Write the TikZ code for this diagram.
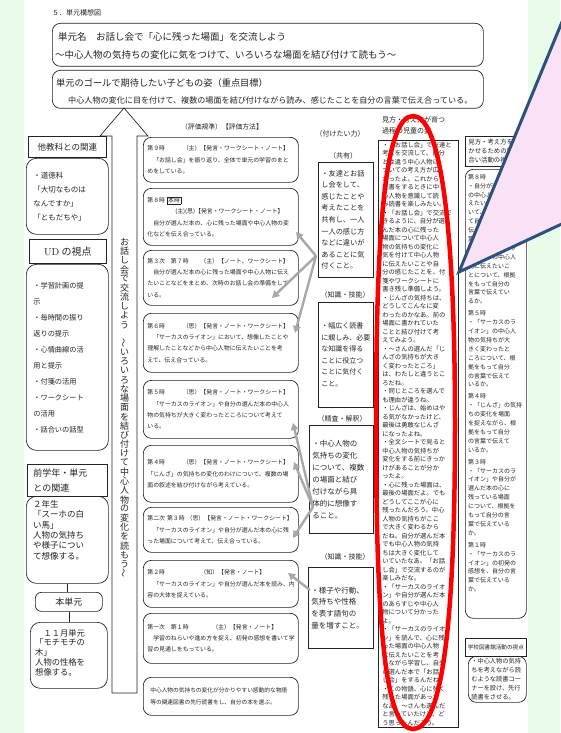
\documentclass[tikz,border=0pt]{standalone}
\usepackage{fontspec}
\newfontfamily\jp{Noto Sans CJK JP}
\usetikzlibrary{arrows.meta,calc}
\definecolor{bggreen}{RGB}{233,251,233}
\definecolor{gline}{RGB}{168,168,168}
\definecolor{cpink}{RGB}{250,226,246}
\definecolor{cblue}{RGB}{45,80,125}
\definecolor{ink}{RGB}{35,35,35}
\newcommand\fsz[2]{\fontsize{#1}{#2}\selectfont}
\newcommand\myvwave{\rotatebox[origin=c]{90}{～}}
\tikzset{
  frame/.style={draw=ink, line width=0.7pt},
  rbox/.style={frame, rounded corners=8pt, anchor=north west, align=left, inner xsep=4pt, inner ysep=0pt, text=ink},
  sbox/.style={frame, anchor=north west, align=left, inner xsep=4pt, inner ysep=0pt, text=ink},
  txt/.style={inner sep=0pt, text=ink},
  garrow/.style={draw=gline, line width=2.4pt, -{Triangle[length=7pt,width=7.5pt]}},
  evbox/.style={rbox, text width=147pt, font=\jp\fsz{5.9}{11.3}},
  lab/.style={txt, font=\jp\fsz{7}{8}},
}
\begin{document}
\begin{tikzpicture}[x=1pt,y=-1pt]
\useasboundingbox (0,0) rectangle (560,733);
\fill[bggreen] (0,0) rectangle (560,733);
\fill[white] (24,0) rectangle (528,733);

% ---- title and top boxes
\node[txt, anchor=west, font=\jp\fsz{7}{8}] (title) at (52,13) {５．単元構想図};
\node[rbox, minimum width=431pt, minimum height=43pt] (unit) at (52,23) {};
\node[txt, anchor=west, font=\jp\fsz{9.5}{10}] (unitA) at (58,37) {単元名　お話し会で「心に残った場面」を交流しよう};
\node[txt, anchor=west, font=\jp\fsz{9.5}{10}] (unitB) at (55,55) {～中心人物の気持ちの変化に気をつけて、いろいろな場面を結び付けて読もう～};
\node[rbox, minimum width=431pt, minimum height=38pt] (goal) at (52,70) {};
\node[txt, anchor=west, font=\jp\fsz{9.2}{10}] (goalA) at (56,83) {単元のゴールで期待したい子どもの姿（重点目標）};
\node[txt, anchor=west, font=\jp\fsz{8.1}{9}] (goalB) at (68,100) {中心人物の変化に目を付けて、複数の場面を結び付けながら読み、感じたことを自分の言葉で伝え合っている。};

% ---- big arrow
\draw[frame] (112,693) -- (112,136) -- (100,136) -- (124,108) -- (148,136) -- (137,136) -- (137,693) -- cycle;
\foreach \ch [count=\i] in {お,話,し,会,で,交,流,し,よ,う,{},\myvwave,い,ろ,い,ろ,な,場,面,を,結,び,付,け,て,中,心,人,物,の,変,化,を,読,も,う,\myvwave}
  \node[txt, font=\jp\fsz{9}{9}] at (124.5,{242+(\i-1)*9.2}) {\ch};

% ---- left column
\node[sbox, minimum width=78pt, minimum height=21pt, align=center, font=\jp\fsz{8.5}{10}] (oth) at (28,136) {他教科との関連};
\node[rbox, rounded corners=10pt, text width=68pt, inner xsep=7pt, minimum height=76pt, font=\jp\fsz{7.5}{14}] (oth2) at (26,158) {・道徳科\\「大切なものは\\なんですか」\\「ともだちや」};
\node[sbox, minimum width=77pt, minimum height=24pt, align=center, font=\jp\fsz{10}{12}] (ud) at (29,239) {{\rmfamily UD} の視点};
\node[rbox, rounded corners=10pt, text width=68pt, inner xsep=7pt, minimum height=186pt, font=\jp\fsz{7.2}{16}] (ud2) at (26,264) {・学習計画の提\\示\\・毎時間の振り\\返りの提示\\・心情曲線の活\\用と提示\\・付箋の活用\\・ワークシート\\の活用\\・話合いの話型};
\node[sbox, text width=68pt, inner xsep=6pt, minimum height=32pt, font=\jp\fsz{9}{15}] (prev) at (27,464) {前学年・単元\\との関連};
\node[rbox, rounded corners=10pt, minimum width=82pt, minimum height=87pt] (prev2) at (26,496) {};
\node[txt, anchor=north west, align=left, font=\jp\fsz{8.5}{10.4}] (prev2t) at (33,500) {２年生\\「スーホの白\\い馬」\\人物の気持ち\\や様子につい\\て想像する。};
\node[rbox, rounded corners=6pt, minimum width=67pt, minimum height=19pt, font=\jp\fsz{9}{10}] (honb) at (35,592) {本単元};
\node[rbox, rounded corners=10pt, minimum width=77pt, minimum height=66pt] (mochi) at (30,622) {};
\node[txt, anchor=north west, align=left, font=\jp\fsz{8.3}{9.8}] (mochit) at (35,629) {　１１月単元\\「モチモチの\\木」\\人物の性格を\\想像する。};
\draw[frame] (prev2.south) -- (prev2.south |- honb.north);
\draw[frame] (honb.south) -- (honb.south |- mochi.north);

% ---- evaluation column
\node[lab, font=\jp\fsz{6.8}{8}] (hyoka) at (222,127) {（評価規準）【評価方法】};
\node[evbox, minimum height=45pt] (evA) at (143,137) {第９時　　　（主）【発言・ワークシート・ノート】\\　「お話し会」を振り返り、全体で単元の学習のまと\\めをしている。};
\node[evbox, minimum height=57pt] (evB) at (143,188) {第８時\ {\fboxsep=0.7pt\fboxrule=0.4pt\fbox{本時}}\\\hspace*{28pt}(主)(思)【発言・ワークシート・ノート】\\　自分が選んだ本の、心に残った場面や中心人物の変\\化などを伝え合っている。};
\node[evbox, minimum height=55pt] (evC) at (143,250) {第３次　第７時　　（主）【ノート、ワークシート】\\　自分が選んだ本の心に残った場面や中心人物に伝え\\たいことなどをまとめ、次時のお話し会の準備をして\\いる。};
\node[evbox, minimum height=59pt] (evD) at (143,313) {第６時　　　（思）【発言・ノート・ワークシート】\\　「サーカスのライオン」において、想像したことや\\理解したことなどから中心人物に伝えたいことを考\\えて、伝え合っている。};
\node[evbox, minimum height=58pt] (evE) at (143,380) {第５時　　　（思）【発言・ノート・ワークシート】\\　「サーカスのライオン」や自分の選んだ本の中心人\\物の気持ちが大きく変わったところについて考えて\\いる。};
\node[evbox, minimum height=57pt] (evF) at (143,445) {第４時　　　（思）【発言・ノート・ワークシート】\\「じんざ」の気持ちの変化のわけについて、複数の場\\面の叙述を結び付けながら考えている。};
\node[evbox, minimum height=45pt] (evG) at (143,507) {第二次 第３時 （思）【発言・ノート・ワークシート】\\　「サーカスのライオン」や自分が選んだ本の心に残\\った場面について考えて、伝え合っている。};
\node[evbox, minimum height=47pt] (evH) at (143,560) {第２時　　　　　　（知）【発言・ノート】\\　「サーカスのライオン」や自分が選んだ本を読み、内\\容の大体を捉えている。};
\node[evbox, minimum height=50pt] (evI) at (143,613) {第一次　第１時　　　　（主）【発言・ノート】\\　学習のねらいや進め方を捉え、初発の感想を書いて学\\習の見通しをもっている。};
\node[evbox, minimum height=38pt, font=\jp\fsz{5.7}{12}] (evJ) at (143,677) {\hspace*{3pt}中心人物の気持ちの変化が分かりやすい感動的な物語\\\hspace*{3pt}等の関連図書の先行読書をし、自分の本を選ぶ。};

% ---- abilities column
\node[lab] (tsuke) at (340,134) {（付けたい力）};
\node[lab] (kyoyu) at (343,156) {（共有）};
\node[sbox, text width=49pt, inner xsep=3pt, minimum height=115pt, font=\jp\fsz{7.2}{11.6}] (kK) at (318,162) {・友達とお話\\し会をして、\\感じたことや\\考えたことを\\共有し、一人\\一人の感じ方\\などに違いが\\あることに気\\付くこと。};
\node[lab] (chi1) at (345,295) {（知識・技能）};
\node[sbox, text width=49pt, inner xsep=3pt, minimum height=105pt, font=\jp\fsz{7}{11.6}] (kL) at (318,302) {・幅広く読書\\に親しみ、必要\\な知識を得る\\ことに役立つ\\ことに気付く\\こと。};
\node[lab] (seisa) at (342,419) {（精査・解釈）};
\node[sbox, text width=58pt, inner xsep=3pt, minimum height=108pt, font=\jp\fsz{7.5}{12}] (kM) at (309,425) {・中心人物の\\気持ちの変化\\について、複数\\の場面と結び\\付けながら具\\体的に想像す\\ること。};
\node[lab] (chi2) at (345,557) {（知識・技能）};
\node[sbox, text width=59pt, inner xsep=3pt, minimum height=81pt, font=\jp\fsz{7.5}{11.7}] (kN) at (308,567) {・様子や行動、\\気持ちや性格\\を表す語句の\\量を増すこと。};

% ---- gray arrows
\coordinate (v1) at (316,256);
\coordinate (tB) at (296,232);
\coordinate (tC) at (272,298);
\coordinate (tD) at (295,333);
\coordinate (v2) at (313,507);
\coordinate (tE) at (293,423);
\coordinate (tF) at (294,462);
\coordinate (tG) at (293,538);
\coordinate (v3) at (310,590);
\coordinate (tH) at (288,573);
\draw[garrow] (v1) -- (tB);
\draw[garrow] (v1) -- (tC);
\draw[garrow] (v1) -- (tD);
\draw[garrow] (v2) -- (tE);
\draw[garrow] (v2) -- (tF);
\draw[garrow] (v2) -- (tG);
\draw[garrow] (v3) -- (tH);

% ---- children column
\node[txt, anchor=north west, align=left, font=\jp\fsz{7}{11}] (phead) at (382,116) {見方・考え方が育つ\\過程の児童の姿};
\node[sbox, text width=72pt, minimum height=587pt, font=\jp\fsz{6.3}{8.5}] (pP) at (378,140) {・「お話し会」で友達と\\考えを交流して、自分\\とは違う中心人物に\\ついての考え方が広\\がったよ。これから\\読書をするときに中\\心人物を意識して読\\み読書を楽しみたい。\\・「お話し会」で交流で\\きるように、自分が選\\んだ本の心に残った\\場面について中心人\\物の気持ちの変化に\\気を付けて中心人物\\に伝えたいことや自\\分の感じたことを、付\\箋やワークシートに\\書き残し準備しよう。\\・じんざの気持ちは、\\どうしてこんなに変\\わったのかなあ。前の\\場面に書かれていた\\ことと結び付けて考\\えてみよう。\\・～さんの選んだ「じ\\んざの気持ちが大き\\く変わったところ」\\は、わたしと違うとこ\\ろだね。\\・同じところを選んで\\も理由が違うね。\\・じんざは、始めはや\\る気がなかったけど、\\最後は勇敢なじんざ\\になったよね。\\・全文シートで見ると\\中心人物の気持ちが\\変化をする前にきっか\\けがあることが分か\\ったよ。\\・心に残った場面は、\\最後の場面だよ。でも\\どうしてここが心に\\残ったんだろう。中心\\人物の気持ちがここ\\で大きく変わるから\\だね。自分が選んだ本\\でも中心人物の気持\\ちは大きく変化して\\いていたなあ。「お話\\し会」で交流するのが\\楽しみだな。\\・「サーカスのライオ\\ン」や自分が選んだ本\\のあらすじや中心人\\物について分かった\\よ。\\・「サーカスのライオ\\ン」を読んで、心に残\\った場面の中心人物\\に伝えたいことを考\\えながら学習し、自分\\の選んだ本で「お話\\し会」をするんだね。\\・この物語、心に強く\\残った場面があった\\なあ。～さんも選んだ\\と言っていたけど、ど\\う思ったんだろう。};
\draw[red, line width=4.5pt] (413,116) .. controls (440,116) and (455,220) .. (455,425) .. controls (455,640) and (440,729) .. (413,729) .. controls (387,729) and (376,640) .. (376,425) .. controls (376,220) and (386,116) .. (413,116) -- cycle;

% ---- right column
\node[sbox, text width=55pt, inner xsep=3pt, minimum height=30pt, font=\jp\fsz{6.4}{9.2}] (rhead) at (465,136) {見方・考え方を働\\かせるための話し\\合い活動の視点};
\node[rbox, minimum width=61pt, minimum height=449pt] (rbody) at (465,169) {};
\node[txt, anchor=north west, align=left, font=\jp\fsz{6}{8.9}] (rbodyt) at (468,174) {第８時\\・自分が選んだ本\\の中心人物に伝\\えたいことにつ\\いて、根拠をもっ\\て自分の言葉で\\伝えているか。\\第６時\\・「サーカスのラ\\イオン」の中心人\\物に伝えたいこ\\とについて、根拠\\をもって自分の\\言葉で伝えてい\\るか。\\[3pt]第５時\\・「サーカスのラ\\イオン」の中心人\\物の気持ちが大\\きく変わったと\\ころについて、根\\拠をもって自分\\の言葉で伝えて\\いるか。\\[3pt]第４時\\・「じんざ」の気持\\ちの変化を場面\\を捉えながら、根\\拠をもって自分\\の言葉で伝えて\\いるか。\\[3pt]第３時\\・「サーカスのラ\\イオン」や自分が\\選んだ本の心に\\残っている場面\\について、根拠を\\もって自分の言\\葉で伝えている\\か。\\[3pt]第１時\\・「サーカスのラ\\イオン」の初発の\\感想を、自分の言\\葉で伝えている\\か。};
\node[sbox, minimum width=61pt, minimum height=18pt, inner xsep=2pt, align=center, font=\jp\fsz{5.6}{6}] (lib) at (465,638) {学校図書館活動の視点};
\node[rbox, text width=52pt, inner xsep=3pt, minimum height=46pt, font=\jp\fsz{6.2}{9}] (lib2) at (468,656) {・中心人物の気持\\ちを考えながら読\\むような読書コー\\ナーを設け、先行\\読書をさせる。};

% ---- callout
\fill[cpink] (571,0) -- (459,272) -- (566,222) -- (571,222) -- cycle;
\draw[cblue, line width=3pt, line join=miter] (571,0) -- (459,272) -- (566,222);
\end{tikzpicture}
\end{document}
